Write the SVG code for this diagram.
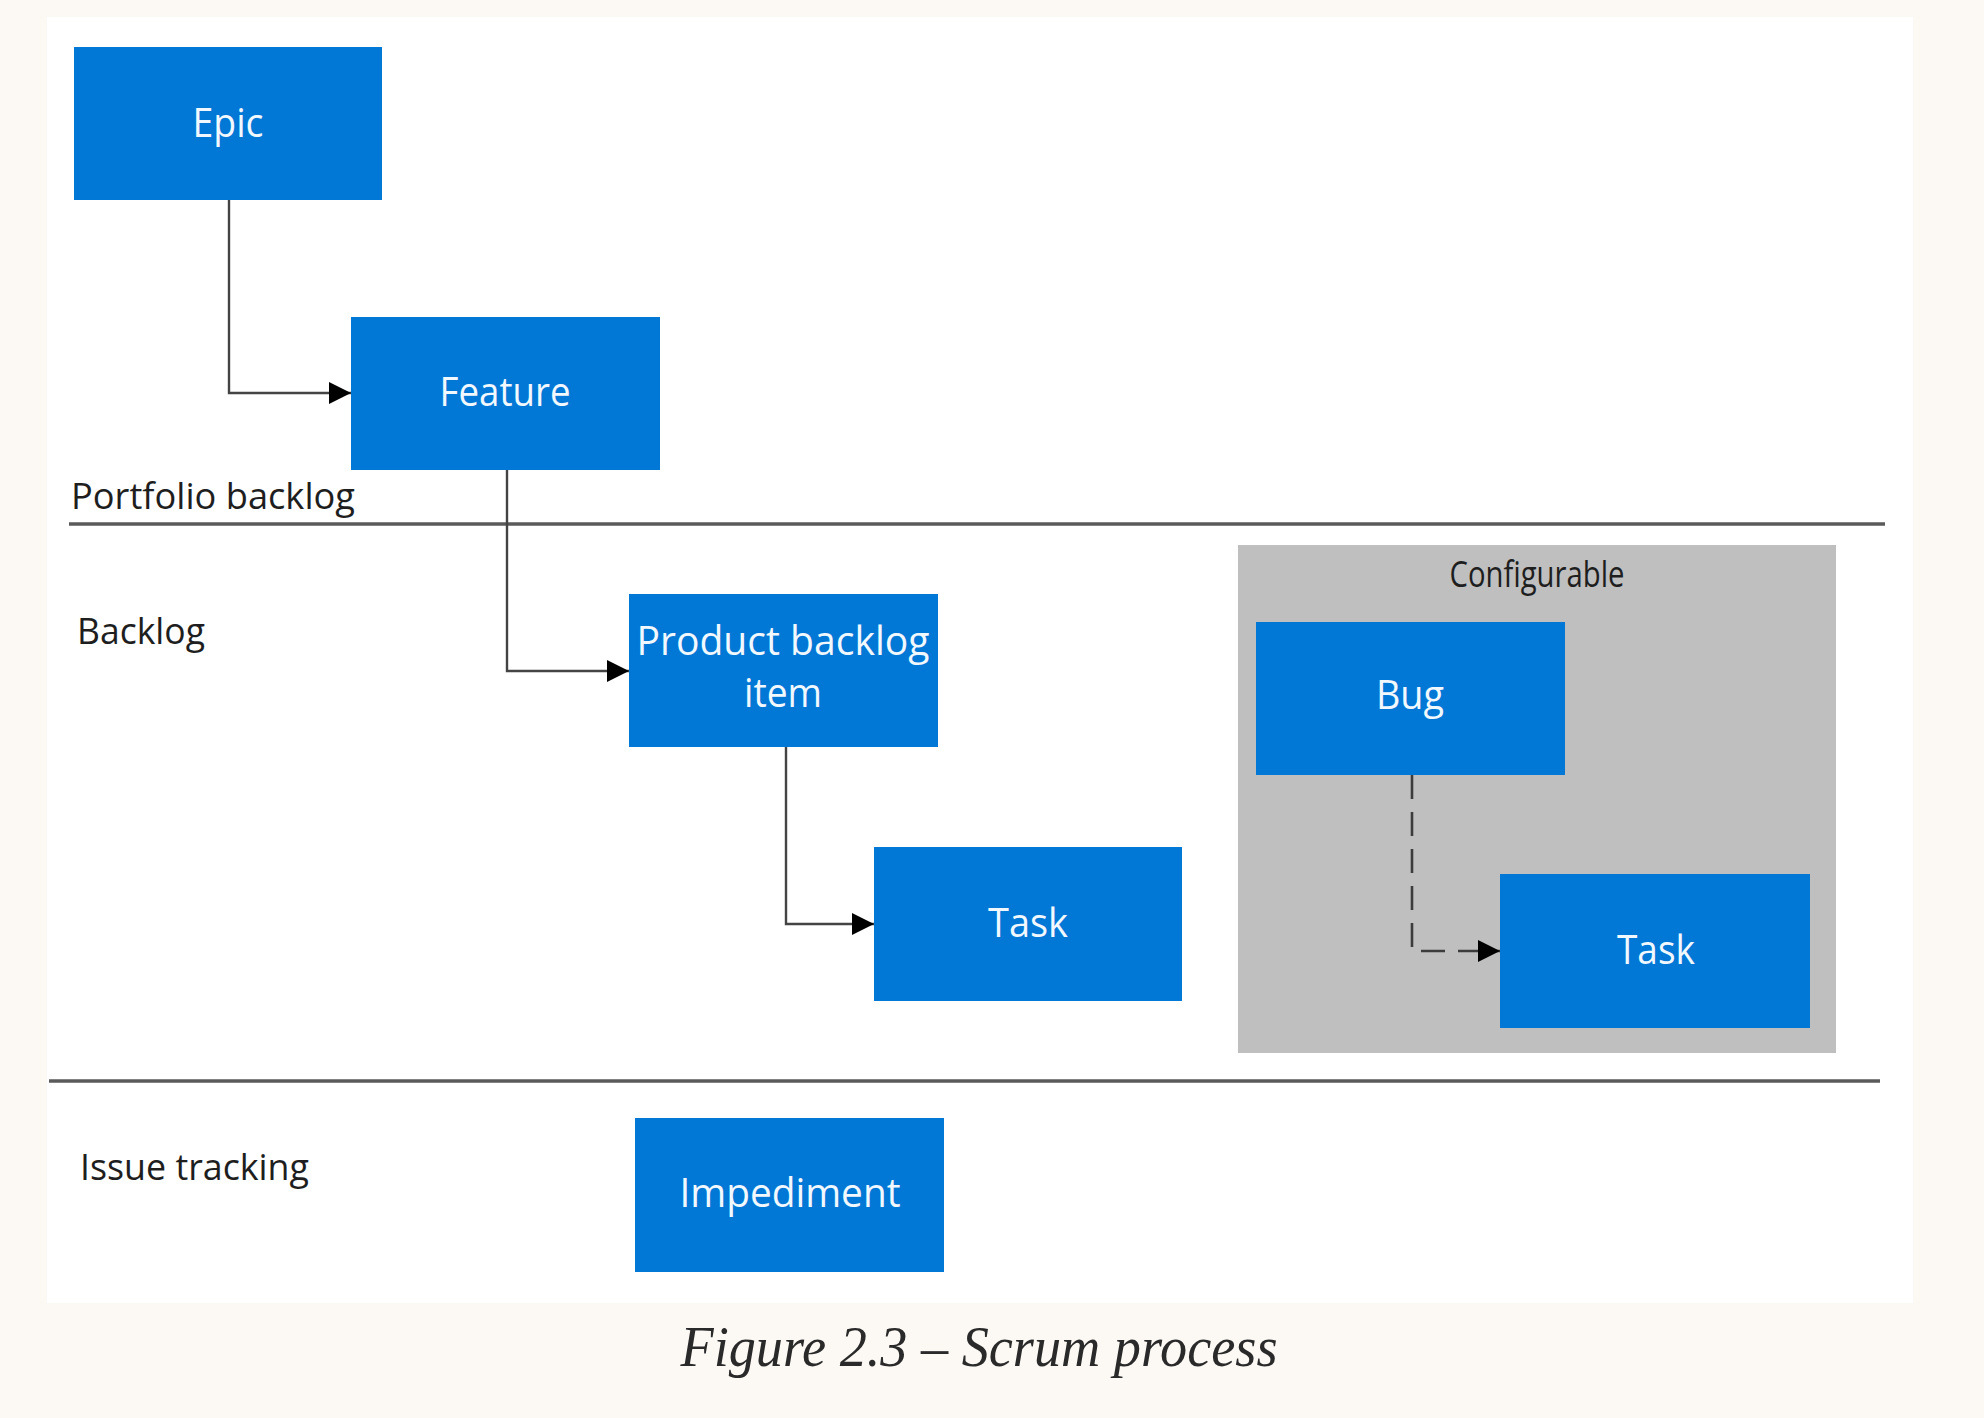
<svg xmlns="http://www.w3.org/2000/svg" width="1984" height="1418" viewBox="0 0 1984 1418">
<style>
.box{fill:#0177D6}
.bt{font-family:"Open Sans","Noto Sans",sans-serif;font-size:40px;fill:#F2F8FF;text-anchor:middle}
.lbl{font-family:"Open Sans","Noto Sans",sans-serif;font-size:37px;fill:#1E1E1E}
.sep{stroke:#5A5A5A;stroke-width:3.5;fill:none}
.con{stroke:#444444;stroke-width:2.4;fill:none}
.dash{stroke:#3C3C3C;stroke-width:2.6;fill:none;stroke-dasharray:24 13}
.cap{font-family:"Liberation Serif","DejaVu Serif",serif;font-style:italic;font-size:56px;fill:#2A2A2A;text-anchor:middle}
</style>
<defs>
<marker id="arr" markerWidth="22" markerHeight="22" viewBox="0 0 22 22" refX="22" refY="11" orient="auto" markerUnits="userSpaceOnUse">
<path d="M0,0 L22,11 L0,22 Z" fill="#000"/>
</marker>
</defs>
<rect x="0" y="0" width="1984" height="1418" fill="#FCF9F4"/>
<rect x="47" y="17" width="1866" height="1286" fill="#FFFFFF"/>
<rect id="configurable" x="1238" y="545" width="598" height="508" fill="#BFBFBF"/>
<text class="lbl" x="1537" y="587" text-anchor="middle" font-size="32" textLength="175" lengthAdjust="spacingAndGlyphs">Configurable</text>
<g id="separators">
<line class="sep" x1="69" y1="524" x2="1885" y2="524"/>
<line class="sep" x1="49" y1="1081" x2="1880" y2="1081"/>
</g>
<g id="lane-labels">
<text class="lbl" x="71" y="509" textLength="284" lengthAdjust="spacingAndGlyphs">Portfolio backlog</text>
<text class="lbl" x="77" y="644" textLength="128" lengthAdjust="spacingAndGlyphs">Backlog</text>
<text class="lbl" x="80" y="1180" textLength="229" lengthAdjust="spacingAndGlyphs">Issue tracking</text>
</g>
<g id="connectors">
<path class="con" d="M229,200 V393 H351" marker-end="url(#arr)"/>
<path class="con" d="M507,470 V671 H629" marker-end="url(#arr)"/>
<path class="con" d="M786,747 V924 H874" marker-end="url(#arr)"/>
<path class="dash" d="M1412,775 V951 H1500" marker-end="url(#arr)"/>
</g>
<g id="epic"><rect class="box" x="74" y="47" width="308" height="153"/><text class="bt" x="228" y="137" textLength="71" lengthAdjust="spacingAndGlyphs">Epic</text></g>
<g id="feature"><rect class="box" x="351" y="317" width="309" height="153"/><text class="bt" x="505" y="406" textLength="131" lengthAdjust="spacingAndGlyphs">Feature</text></g>
<g id="pbi"><rect class="box" x="629" y="594" width="309" height="153"/><text class="bt" x="783" y="655" font-size="38" textLength="293" lengthAdjust="spacingAndGlyphs">Product backlog</text><text class="bt" x="783" y="707" font-size="38" textLength="78" lengthAdjust="spacingAndGlyphs">item</text></g>
<g id="task"><rect class="box" x="874" y="847" width="308" height="154"/><text class="bt" x="1028" y="937" textLength="80" lengthAdjust="spacingAndGlyphs">Task</text></g>
<g id="bug"><rect class="box" x="1256" y="622" width="309" height="153"/><text class="bt" x="1410" y="709" textLength="68" lengthAdjust="spacingAndGlyphs">Bug</text></g>
<g id="task2"><rect class="box" x="1500" y="874" width="310" height="154"/><text class="bt" x="1656" y="964" textLength="78" lengthAdjust="spacingAndGlyphs">Task</text></g>
<g id="impediment"><rect class="box" x="635" y="1118" width="309" height="154"/><text class="bt" x="790" y="1207" textLength="221" lengthAdjust="spacingAndGlyphs">Impediment</text></g>
<text class="cap" x="979" y="1366" textLength="597" lengthAdjust="spacingAndGlyphs">Figure 2.3 – Scrum process</text>
</svg>
